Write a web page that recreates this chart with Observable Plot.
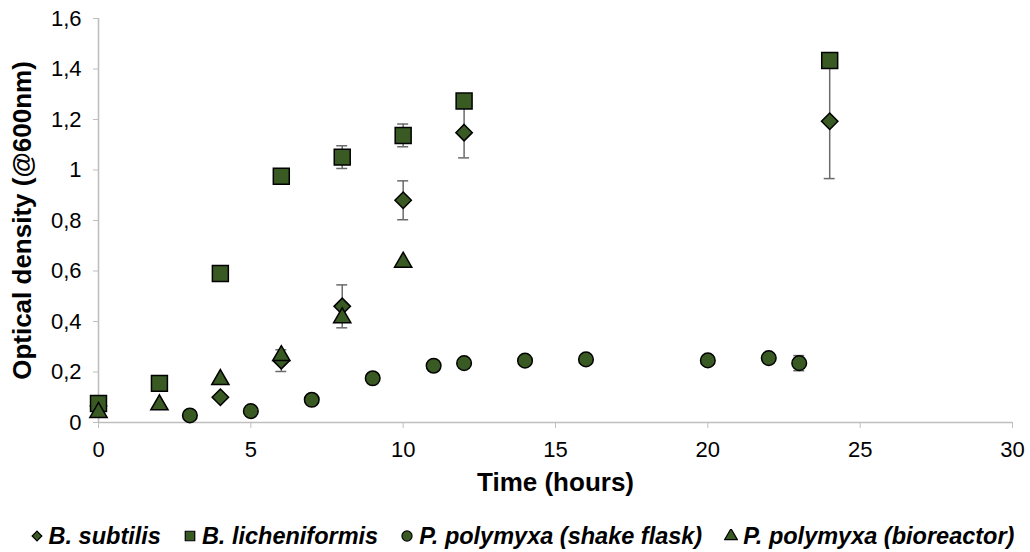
<!DOCTYPE html>
<html>
<head>
<meta charset="utf-8">
<script src="https://cdn.jsdelivr.net/npm/d3@7"></script>
<script src="https://cdn.jsdelivr.net/npm/@observablehq/plot@0.6"></script>
<style>
  html, body { margin: 0; padding: 0; background: #fff; }
  body { width: 1030px; height: 552px; position: relative; overflow: hidden; font-family: "Liberation Sans", Arial, sans-serif; }
  #chart { position: absolute; left: 0; top: 0; }
  #legend { position: absolute; left: 14px; top: 520px; width: 1016px; height: 32px; display: flex; justify-content: center; align-items: center; gap: 22px; font-weight: bold; font-style: italic; font-size: 23.5px; color: #000; white-space: nowrap; }
  #legend .item { display: flex; align-items: center; gap: 5px; }
</style>
</head>
<body>
<div id="chart"></div>
<div id="legend"></div>
<script>
// ---- data ----
const seriesNames = ["B. subtilis", "B. licheniformis", "P. polymyxa (shake flask)", "P. polymyxa (bioreactor)"];
const seriesSymbols = ["diamond2", "square", "circle", "triangle"];

const subtilisTime = [0, 4, 6, 8, 10, 12, 24];
const subtilisOD   = [0.065, 0.10, 0.245, 0.46, 0.88, 1.148, 1.193];
const subtilisErr  = [0, 0, 0.043, 0.085, 0.077, 0.10, 0.227];

const licheniformisTime = [0, 2, 4, 6, 8, 10, 12, 24];
const licheniformisOD   = [0.075, 0.155, 0.59, 0.975, 1.051, 1.137, 1.273, 1.434];
const licheniformisErr  = [0, 0, 0, 0, 0.045, 0.045, 0, 0];

const shakeFlaskTime = [3, 5, 7, 9, 11, 12, 14, 16, 20, 22, 23];
const shakeFlaskOD   = [0.028, 0.045, 0.09, 0.175, 0.225, 0.235, 0.245, 0.25, 0.246, 0.255, 0.235];
const shakeFlaskErr  = [0, 0, 0, 0, 0, 0, 0, 0, 0, 0, 0.03];

const bioreactorTime = [0, 2, 4, 6, 8, 10];
const bioreactorOD   = [0.04, 0.07, 0.17, 0.265, 0.415, 0.635];
const bioreactorErr  = [0, 0, 0, 0, 0, 0];

const xTicks = [0, 5, 10, 15, 20, 25, 30];
const yTicks = [0, 0.2, 0.4, 0.6, 0.8, 1.0, 1.2, 1.4, 1.6];
const xTitle = "Time (hours)";
const yTitle = "Optical density (@600nm)";

// ---- build tables ----
const toRows = (times, vals, errs, k) => times.map((t, i) => ({t, v: vals[i], e: errs[i], s: k}));
const series = [
  toRows(subtilisTime, subtilisOD, subtilisErr, 0),
  toRows(licheniformisTime, licheniformisOD, licheniformisErr, 1),
  toRows(shakeFlaskTime, shakeFlaskOD, shakeFlaskErr, 2),
  toRows(bioreactorTime, bioreactorOD, bioreactorErr, 3)
];
const errRows = series.flat().filter(d => d.e > 0);

const fillColor = "#3a5a24";
const radius = [7.4, 9, 7.3, 6.4];
const fmt = d => String(d).replace(".", ",");
const capHalf = 0.18;

const marks = [
  Plot.ruleY([0], {stroke: "#bfbfbf", strokeWidth: 1.6}),
  Plot.ruleX([0], {stroke: "#bfbfbf", strokeWidth: 1.6}),
  Plot.axisX({ticks: xTicks, tickSize: 6, tickPadding: 13, tickFormat: fmt, stroke: "#bfbfbf", fill: "#000", label: null}),
  Plot.axisY({ticks: yTicks, tickSize: 5, tickPadding: 12, tickFormat: fmt, stroke: "#bfbfbf", fill: "#000", label: null}),
  Plot.ruleX(errRows, {x: "t", y1: d => d.v - d.e, y2: d => d.v + d.e, stroke: "#6b6b6b", strokeWidth: 1.5}),
  Plot.ruleY(errRows, {y: d => d.v - d.e, x1: d => d.t - capHalf, x2: d => d.t + capHalf, stroke: "#6b6b6b", strokeWidth: 1.5}),
  Plot.ruleY(errRows, {y: d => d.v + d.e, x1: d => d.t - capHalf, x2: d => d.t + capHalf, stroke: "#6b6b6b", strokeWidth: 1.5}),
  ...series.map((rows, k) => Plot.dot(rows, {x: "t", y: "v", symbol: () => seriesSymbols[k], r: radius[k], fill: fillColor, stroke: "#000", strokeWidth: 1.5})),
  Plot.text([xTitle], {frameAnchor: "bottom", dy: 68, text: d => d, fontSize: 26, fontWeight: "bold", fill: "#000"}),
  Plot.text([yTitle], {frameAnchor: "left", dx: -76, rotate: -90, textAnchor: "middle", text: d => d, fontSize: 26, fontWeight: "bold", fill: "#000"})
];

const chart = Plot.plot({
  width: 1030,
  height: 520,
  marginLeft: 98,
  marginRight: 18,
  marginTop: 18,
  marginBottom: 98,
  x: {domain: [0, 30]},
  y: {domain: [0, 1.6]},
  symbol: {domain: seriesSymbols, range: seriesSymbols},
  style: {fontFamily: "'Liberation Sans', Arial, sans-serif", fontSize: "22px", color: "#000", background: "#fff", overflow: "visible"},
  marks
});
document.getElementById("chart").appendChild(chart);

// ---- legend ----
const legend = document.getElementById("legend");
const symMap = {diamond2: d3.symbolDiamond2, square: d3.symbolSquare, circle: d3.symbolCircle, triangle: d3.symbolTriangle};
const legendSize = [60, 90, 80, 70];
seriesNames.forEach((name, k) => {
  const item = document.createElement("div");
  item.className = "item";
  const path = d3.symbol(symMap[seriesSymbols[k]], legendSize[k])();
  item.innerHTML = `<svg width="14" height="14" viewBox="-7 -7 14 14"><path d="${path}" fill="${fillColor}" stroke="#000" stroke-width="1.2"/></svg><span>${name}</span>`;
  legend.appendChild(item);
});
</script>
</body>
</html>
